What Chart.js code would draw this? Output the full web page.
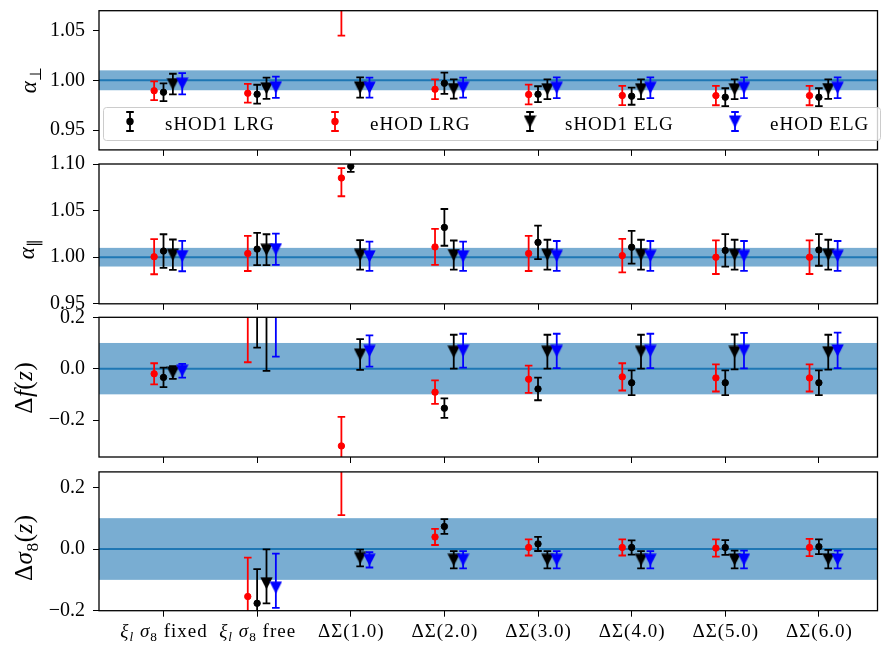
<!DOCTYPE html>
<html>
<head>
<meta charset="utf-8">
<script src="https://cdn.jsdelivr.net/npm/chart.js@4/dist/chart.umd.min.js"></script>
<style>
  html, body { margin: 0; padding: 0; background: #fff; }
  #wrap { position: relative; width: 884px; height: 646px; }
  #wrap canvas { position: absolute; left: 0; top: 0; }
</style>
</head>
<body>
<div id="wrap">
  <canvas id="p1" width="884" height="646"></canvas>
  <canvas id="p2" width="884" height="646"></canvas>
  <canvas id="p3" width="884" height="646"></canvas>
  <canvas id="p4" width="884" height="646"></canvas>
</div>
<script>
// categories on the x axis ($..$ = math, _x = subscript)
const categories = [
  "$ξ_l$ $σ_8$ fixed", "$ξ_l$ $σ_8$ free",
  "$ΔΣ(1.0)$", "$ΔΣ(2.0)$", "$ΔΣ(3.0)$", "$ΔΣ(4.0)$", "$ΔΣ(5.0)$", "$ΔΣ(6.0)$"
];
const seriesNames = ["sHOD1 LRG", "eHOD LRG", "sHOD1 ELG", "eHOD ELG"];

// alpha_perp  (err: number = symmetric, [lo, hi] = asymmetric)
const aperpS1LRG    = [0.988, 0.986, 1.120, 0.997, 0.986, 0.984, 0.983, 0.983];
const aperpS1LRGErr = [0.009, 0.0095, 0.010, 0.0107, 0.008, 0.0086, 0.009, 0.009];
const aperpELRG     = [0.9895, 0.987, 1.090, 0.991, 0.9857, 0.9847, 0.9846, 0.9846];
const aperpELRGErr  = [0.0095, 0.0094, 0.045, 0.010, 0.0099, 0.0096, 0.0097, 0.0097];
const aperpS1ELG    = [0.9962, 0.992, 0.9928, 0.9912, 0.991, 0.991, 0.991, 0.9912];
const aperpS1ELGErr = [0.0104, 0.0107, 0.0102, 0.0097, 0.010, 0.010, 0.010, 0.0098];
const aperpEELG     = [0.9966, 0.993, 0.9926, 0.9926, 0.9925, 0.9925, 0.9925, 0.9925];
const aperpEELGErr  = [0.0107, 0.0107, 0.010, 0.010, 0.0104, 0.0104, 0.0104, 0.0104];

// alpha_par
const aparS1LRG    = [1.0066, 1.0087, 1.0975, 1.032, 1.0159, 1.0107, 1.0073, 1.0078];
const aparS1LRGErr = [0.018, 0.0173, 0.006, 0.0197, 0.018, 0.0175, 0.0174, 0.017];
const aparELRG     = [1.0005, 1.004, 1.085, 1.011, 1.004, 1.0017, 1.000, 1.000];
const aparELRGErr  = [0.0188, 0.0188, [0.0196, 0.0105], 0.0193, 0.0188, 0.018, 0.018, 0.018];
const aparS1ELG    = [1.0027, 1.008, 1.0025, 1.0023, 1.0027, 1.0027, 1.0027, 1.0027];
const aparS1ELGErr = [0.0163, 0.0166, 0.0158, 0.0156, 0.016, 0.016, 0.016, 0.016];
const aparEELG     = [1.0012, 1.0086, 1.001, 1.001, 1.0014, 1.0014, 1.0014, 1.0014];
const aparEELGErr  = [0.0163, 0.0168, 0.0157, 0.0157, 0.016, 0.016, 0.016, 0.016];

// delta f(z)
const dfS1LRG    = [-0.034, 0.28, -0.50, -0.154, -0.079, -0.055, -0.055, -0.055];
const dfS1LRGErr = [0.038, 0.198, 0.05, 0.038, 0.044, 0.048, 0.048, 0.048];
const dfELRG     = [-0.020, 0.30, -0.301, -0.0915, -0.041, -0.032, -0.036, -0.036];
const dfELRGErr  = [0.041, 0.275, 0.113, 0.046, 0.053, 0.053, 0.053, 0.053];
const dfS1ELG    = [-0.015, 0.30, 0.055, 0.066, 0.066, 0.066, 0.065, 0.064];
const dfS1ELGErr = [0.025, 0.309, 0.060, 0.066, 0.066, 0.066, 0.068, 0.068];
const dfEELG     = [-0.008, 0.28, 0.069, 0.070, 0.069, 0.069, 0.070, 0.071];
const dfEELGErr  = [0.027, 0.233, 0.061, 0.066, 0.067, 0.067, 0.069, 0.069];

// delta sigma8(z)  (no value when sigma8 is fixed)
const ds8S1LRG    = [null, -0.176, 0.35, 0.073, 0.0166, 0.005, 0.005, 0.0075];
const ds8S1LRGErr = [null, 0.111, 0.05, 0.024, 0.023, 0.023, 0.024, 0.024];
const ds8ELRG     = [null, -0.154, 0.30, 0.039, 0.005, 0.005, 0.003, 0.005];
const ds8ELRGErr  = [null, 0.126, 0.19, 0.026, 0.026, 0.026, 0.028, 0.028];
const ds8S1ELG    = [null, -0.111, -0.029, -0.035, -0.035, -0.035, -0.034, -0.033];
const ds8S1ELGErr = [null, [0.065, 0.11], 0.027, 0.028, 0.028, 0.028, 0.029, 0.030];
const ds8EELG     = [null, -0.125, -0.035, -0.035, -0.035, -0.035, -0.034, -0.034];
const ds8EELGErr  = [null, [0.066, 0.11], 0.025, 0.028, 0.028, 0.028, 0.029, 0.029];

// y ticks of each panel
const aperpTicks = [0.95, 1.00, 1.05];
const aparTicks  = [0.95, 1.00, 1.05, 1.10];
const dfTicks    = [-0.2, 0.0, 0.2];
const ds8Ticks   = [-0.2, 0.0, 0.2];

// ---------------------------------------------------------------
const FONT = "'Liberation Serif', 'Times New Roman', serif";
const CAP = 3.8;
const seriesStyle = [
  { color: "#000000", marker: "circle", dx: 0 },
  { color: "#ff0000", marker: "circle", dx: -0.1 },
  { color: "#000000", marker: "tri",    dx: 0.1 },
  { color: "#0000ff", marker: "tri",    dx: 0.2 },
];

function triCanvas(color) {
  const c = document.createElement("canvas");
  c.width = 13; c.height = 13;
  const g = c.getContext("2d");
  g.fillStyle = color;
  g.beginPath();
  g.moveTo(0.3, 0.5); g.lineTo(12.7, 0.5); g.lineTo(6.5, 12.7);
  g.closePath(); g.fill();
  return c;
}
const triMarkers = {};
seriesStyle.forEach(s => { if (s.marker === "tri") triMarkers[s.color] = triCanvas(s.color); });

function parseTex(str) {
  const out = [];
  let math = false;
  for (let i = 0; i < str.length; i++) {
    let ch = str[i], sub = false;
    if (ch === "$") { math = !math; continue; }
    if (ch === "_") { ch = str[++i]; sub = true; }
    out.push({ t: ch, sub, it: math && /[a-zα-ω]/.test(ch) });
  }
  return out;
}

function drawMath(ctx, str, x, y, size, rotated, spacing) {
  const runs = parseTex(str);
  const fontFor = r => (r.it ? "italic " : "") + (r.sub ? size * 0.7 : size) + "px " + FONT;
  const sp = spacing || 0;
  let total = 0;
  runs.forEach(r => { ctx.font = fontFor(r); r.w = ctx.measureText(r.t).width + sp; total += r.w; });
  total -= sp;
  ctx.save();
  ctx.translate(x, y);
  if (rotated) ctx.rotate(-Math.PI / 2);
  ctx.textAlign = "left";
  ctx.textBaseline = "alphabetic";
  ctx.fillStyle = "#000";
  let cx = -total / 2;
  runs.forEach(r => {
    ctx.font = fontFor(r);
    ctx.fillText(r.t, cx, r.sub ? size * 0.22 : 0);
    cx += r.w;
  });
  ctx.restore();
}

function errValue(e) {
  return Array.isArray(e) ? e : [e, e];
}

function drawMarker(ctx, st, x, y) {
  if (st.marker === "tri") {
    ctx.drawImage(triMarkers[st.color], x - 6.5, y - 6.5);
  } else {
    ctx.fillStyle = st.color;
    ctx.beginPath(); ctx.arc(x, y, 3.7, 0, Math.PI * 2); ctx.fill();
  }
}

const errorBarPlugin = {
  id: "errbars",
  beforeDatasetDraw(chart, args) {
    const ds = chart.data.datasets[args.index];
    const xs = chart.scales.x, ys = chart.scales.y, a = chart.chartArea, ctx = chart.ctx;
    ctx.save();
    ctx.beginPath(); ctx.rect(a.left, a.top, a.right - a.left, a.bottom - a.top); ctx.clip();
    ctx.strokeStyle = ds.pointBackgroundColor;
    ctx.lineWidth = 1.8;
    ds.data.forEach((d, i) => {
      if (d.y === null || ds.errs[i] === null) return;
      const [lo, hi] = errValue(ds.errs[i]);
      const px = xs.getPixelForValue(d.x);
      const y1 = ys.getPixelForValue(d.y - lo), y2 = ys.getPixelForValue(d.y + hi);
      ctx.beginPath();
      ctx.moveTo(px, y1); ctx.lineTo(px, y2);
      ctx.moveTo(px - CAP, y1); ctx.lineTo(px + CAP, y1);
      ctx.moveTo(px - CAP, y2); ctx.lineTo(px + CAP, y2);
      ctx.stroke();
    });
    ctx.restore();
  }
};

function makePanel(cfg) {
  const xh = 6;
  const datasets = seriesNames.map((name, k) => {
    const st = seriesStyle[k];
    return {
      label: name,
      data: categories.map((_, i) => ({ x: i + st.dx, y: cfg.vals[k][i] })),
      errs: cfg.errs[k],
      order: 4 - k,
      showLine: false,
      clip: 0,
      pointStyle: st.marker === "tri" ? triMarkers[st.color] : "circle",
      pointRadius: st.marker === "tri" ? 6.5 : 3.2,
      pointBorderWidth: st.marker === "tri" ? 0 : 1,
      pointBackgroundColor: st.color,
      pointBorderColor: st.color,
    };
  });

  const panelPlugin = {
    id: "panel" + cfg.id,
    beforeDatasetsDraw(chart) {
      const a = chart.chartArea, ys = chart.scales.y, ctx = chart.ctx;
      const yt = ys.getPixelForValue(cfg.band[0] + cfg.band[1]);
      const yb = ys.getPixelForValue(cfg.band[0] - cfg.band[1]);
      const yc = ys.getPixelForValue(cfg.band[0]);
      ctx.save();
      ctx.fillStyle = "rgba(31,119,180,0.6)";
      ctx.fillRect(a.left, yt, a.right - a.left, yb - yt);
      ctx.strokeStyle = "#1f77b4";
      ctx.lineWidth = 2;
      ctx.beginPath(); ctx.moveTo(a.left, yc); ctx.lineTo(a.right, yc); ctx.stroke();
      ctx.restore();
    },
    afterDatasetsDraw(chart) {
      const a = chart.chartArea, ctx = chart.ctx;
      ctx.save();
      ctx.strokeStyle = "#000"; ctx.lineWidth = 1.3;
      ctx.strokeRect(a.left, a.top, a.right - a.left, a.bottom - a.top);
      ctx.restore();
    },
    afterDraw(chart) {
      const ctx = chart.ctx;
      drawMath(ctx, cfg.ylabel, cfg.ylabelPos[0], cfg.ylabelPos[1], cfg.ylabelSize, true, 0.5);
      if (cfg.xlabels) {
        const xs = chart.scales.x;
        categories.forEach((c, i) => drawMath(ctx, c, xs.getPixelForValue(i), 637, 19, false, 1));
      }
      if (cfg.legend) drawLegend(ctx);
    }
  };

  return new Chart(document.getElementById(cfg.id), {
    type: "scatter",
    data: { datasets },
    options: {
      animation: false,
      responsive: false,
      devicePixelRatio: 1,
      events: [],
      layout: { padding: { top: cfg.top, bottom: 646 - cfg.bottom - xh, left: 0, right: 1 } },
      plugins: { legend: { display: false }, tooltip: { enabled: false } },
      scales: {
        x: {
          type: "linear", min: -0.689, max: 7.626,
          afterBuildTicks: s => { s.ticks = categories.map((_, i) => ({ value: i })); },
          ticks: { display: false },
          grid: { drawOnChartArea: false, drawTicks: true, tickLength: xh, color: "#000", lineWidth: 1 },
          border: { display: false },
          afterFit: s => { s.height = xh; s.paddingLeft = 0; s.paddingRight = 0; }
        },
        y: {
          min: cfg.yMin, max: cfg.yMax,
          afterBuildTicks: s => { s.ticks = cfg.yTicks.map(v => ({ value: v })); },
          ticks: {
            padding: 8, color: "#000",
            font: { family: FONT, size: 20 },
            callback: v => (v < -1e-9 ? "\u2212" : "") + Math.abs(v).toFixed(cfg.dec)
          },
          grid: { drawOnChartArea: false, drawTicks: true, tickLength: 6, color: "#000", lineWidth: 1 },
          border: { display: false },
          afterFit: s => { s.width = 99; s.paddingTop = 0; s.paddingBottom = 0; }
        }
      }
    },
    plugins: [errorBarPlugin, panelPlugin]
  });
}

const legendX = [130, 335, 530, 735];
function drawLegend(ctx) {
  ctx.save();
  ctx.fillStyle = "rgba(255,255,255,0.8)";
  ctx.strokeStyle = "#cccccc";
  ctx.lineWidth = 1;
  ctx.beginPath();
  ctx.roundRect(103.5, 107.5, 777, 33, 3);
  ctx.fill(); ctx.stroke();
  seriesNames.forEach((name, k) => {
    const st = seriesStyle[k], x = legendX[k], yc = 121.5;
    ctx.strokeStyle = st.color; ctx.lineWidth = 1.8;
    ctx.beginPath();
    ctx.moveTo(x, yc - 9.5); ctx.lineTo(x, yc + 9.5);
    ctx.moveTo(x - CAP, yc - 9.5); ctx.lineTo(x + CAP, yc - 9.5);
    ctx.moveTo(x - CAP, yc + 9.5); ctx.lineTo(x + CAP, yc + 9.5);
    ctx.stroke();
    drawMarker(ctx, st, x, yc);
    ctx.fillStyle = "#000";
    ctx.font = "19px " + FONT;
    ctx.letterSpacing = "1px";
    ctx.textAlign = "left"; ctx.textBaseline = "alphabetic";
    ctx.fillText(name, x + 35, 129.5);
  });
  ctx.restore();
}

makePanel({
  id: "p1", top: 10.7, bottom: 149.9, yMin: 0.93, yMax: 1.07, yTicks: aperpTicks, dec: 2,
  vals: [aperpS1LRG, aperpELRG, aperpS1ELG, aperpEELG],
  errs: [aperpS1LRGErr, aperpELRGErr, aperpS1ELGErr, aperpEELGErr],
  band: [1.0, 0.01], ylabel: "$α_⊥$", ylabelPos: [35.5, 80], ylabelSize: 23, legend: true
});
makePanel({
  id: "p2", top: 164, bottom: 303.8, yMin: 0.95, yMax: 1.10, yTicks: aparTicks, dec: 2,
  vals: [aparS1LRG, aparELRG, aparS1ELG, aparEELG],
  errs: [aparS1LRGErr, aparELRGErr, aparS1ELGErr, aparEELGErr],
  band: [1.0, 0.01], ylabel: "$α_∥$", ylabelPos: [33.5, 249], ylabelSize: 23
});
makePanel({
  id: "p3", top: 317.3, bottom: 457, yMin: -0.344, yMax: 0.2, yTicks: dfTicks, dec: 1,
  vals: [dfS1LRG, dfELRG, dfS1ELG, dfEELG],
  errs: [dfS1LRGErr, dfELRGErr, dfS1ELGErr, dfEELGErr],
  band: [0.0, 0.1], ylabel: "$Δf(z)$", ylabelPos: [32, 388], ylabelSize: 25
});
makePanel({
  id: "p4", top: 471.9, bottom: 610.7, yMin: -0.2, yMax: 0.25, yTicks: ds8Ticks, dec: 1,
  vals: [ds8S1LRG, ds8ELRG, ds8S1ELG, ds8EELG],
  errs: [ds8S1LRGErr, ds8ELRGErr, ds8S1ELGErr, ds8EELGErr],
  band: [0.0, 0.1], ylabel: "$Δσ_8(z)$", ylabelPos: [32, 548], ylabelSize: 25, xlabels: true
});
</script>
</body>
</html>
